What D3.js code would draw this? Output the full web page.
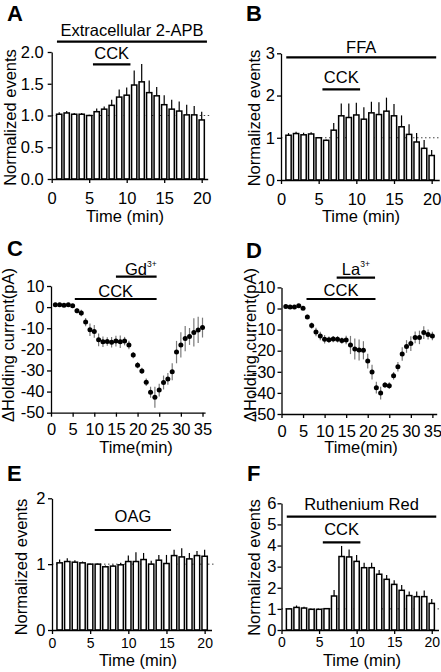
<!DOCTYPE html>
<html><head><meta charset="utf-8">
<script src="https://cdn.jsdelivr.net/npm/d3@7"></script>
<style>
body{margin:0;background:#fff;}
svg{display:block;font-family:"Liberation Sans",Arial,Helvetica,sans-serif;}
</style></head><body>
<svg id="fig" width="441" height="672"></svg>
<script>
// ---------- data ----------
const minutes20 = [1,2,3,4,5,6,7,8,9,10,11,12,13,14,15,16,17,18,19,20];
const minutes35 = [1,2,3,4,5,6,7,8,9,10,11,12,13,14,15,16,17,18,19,20,21,22,23,24,25,26,27,28,29,30,31,32,33,34,35];
const xTicks20 = [0,5,10,15,20];
const xTicks35 = [0,5,10,15,20,25,30,35];

const aMean = [1.02,1.04,1.02,1.02,1.00,1.06,1.10,1.16,1.29,1.32,1.48,1.53,1.36,1.31,1.17,1.10,1.07,1.01,1.01,0.93];
const aErr  = [0.03,0.03,0.02,0.02,0.01,0.05,0.04,0.09,0.12,0.12,0.23,0.28,0.19,0.14,0.15,0.15,0.15,0.16,0.14,0.13];
const aTicks = [0,0.5,1,1.5,2];

const bMean = [1.06,1.10,1.07,1.09,1.00,0.94,1.18,1.52,1.48,1.54,1.44,1.59,1.55,1.63,1.52,1.26,1.08,0.90,0.75,0.58];
const bErr  = [0.05,0.04,0.05,0.04,0.01,0.02,0.17,0.29,0.33,0.29,0.28,0.26,0.29,0.32,0.28,0.27,0.24,0.21,0.20,0.13];
const bTicks = [0,1,2,3];

const cMean = [1.1,1.1,0.9,1.1,0.6,-1.7,-2.8,-7.1,-10.7,-11.5,-15.5,-16.4,-16.3,-16.6,-16.1,-16.4,-16.1,-17.9,-22.7,-27.5,-30.2,-35.6,-40.3,-42.7,-39.3,-35.7,-34.0,-30.6,-21.3,-17.9,-14.9,-13.9,-12.0,-10.8,-9.7];
const cErr  = [0.5,0.5,0.5,0.5,0.5,1.2,1.5,2,3,3,3,2.5,2,2.5,2.5,3,2,2,1.5,1.5,1.5,1.8,2.6,5,3,3.3,2.8,4,5.3,6,6,4,6.7,6.2,4.7];

const dMean = [0.9,0.7,0.7,1.3,0.1,-4.0,-8.1,-11.1,-13.0,-14.6,-14.8,-14.5,-14.6,-15.2,-14.9,-17.3,-19.2,-19.7,-19.8,-24.9,-30.1,-37.5,-40.1,-36.2,-36.6,-31.9,-27.6,-21.6,-18.0,-16.6,-13.7,-13.7,-11.4,-12.3,-13.0];
const dErr  = [0.5,0.5,0.5,0.5,0.5,1,1.5,2,2,2,1.5,1.5,1.5,1.5,2,4.3,5,5,4.3,3.5,3.5,2.8,3,1.3,1.6,1.8,2.2,3.2,3,3.5,2.8,3.2,3,2.4,2];
const currentTicks = [-50,-40,-30,-20,-10,0,10];

const eMean = [1.02,1.04,1.03,1.02,1.00,1.00,0.96,0.97,0.99,1.04,1.04,1.07,1.00,1.06,1.01,1.13,1.11,1.08,1.13,1.12];
const eErr  = [0.05,0.05,0.03,0.02,0.01,0.01,0.02,0.02,0.03,0.09,0.14,0.10,0.05,0.08,0.13,0.09,0.13,0.09,0.07,0.10];
const eTicks = [0,1,2];

const fMean = [1.00,1.07,1.04,0.98,0.98,1.01,1.61,3.48,3.46,3.25,2.95,2.95,2.64,2.40,2.16,1.88,1.63,1.58,1.58,1.26];
const fErr  = [0.03,0.09,0.06,0.03,0.02,0.02,0.28,0.50,0.35,0.30,0.24,0.24,0.20,0.20,0.20,0.25,0.19,0.24,0.29,0.21];
const fTicks = [0,1,2,3,4,5,6];

// treatment bars: [label, start min, end min]
const aTreat = [["Extracellular 2-APB",0.7,20.7],["CCK",5.5,10.5]];
const bTreat = [["FFA",0.7,20.6],["CCK",5.5,10.5]];
const cTreat = [["Gd",15.0,24.4],["CCK",5.5,24.4]];
const dTreat = [["La",12.8,21.7],["CCK",5.8,21.8]];
const eTreat = [["OAG",5.6,15.6]];
const fTreat = [["Ruthenium Red",0.7,20.6],["CCK",5.5,10.5]];

// ---------- drawing ----------
const svg = d3.select("#fig");
const FS = 16.5;

function axes(g, x, y, cfg) {
  const xa = g.append("g").attr("transform", `translate(0,${cfg.yRange[0]})`)
    .call(d3.axisBottom(x).tickValues(cfg.xTicks).tickSize(4).tickSizeOuter(0)
      .tickPadding(cfg.xPad).tickFormat(d => String(d)));
  const ya = g.append("g").attr("transform", `translate(${cfg.xRange[0]},0)`)
    .call(d3.axisLeft(y).tickValues(cfg.yTicks).tickSize(4).tickSizeOuter(0)
      .tickPadding(cfg.yPad).tickFormat(cfg.yFmt || (d => String(d))));
  xa.attr("font-size", cfg.xTickSize || FS).attr("font-family", null);
  ya.attr("font-size", FS).attr("font-family", null);
  [xa, ya].forEach(a => {
    a.selectAll("path,line").attr("stroke", "#000").attr("stroke-width", 1.3);
    a.selectAll("text").attr("fill", "#000");
  });
}

function labels(g, cfg) {
  g.append("text").attr("x", cfg.letter[0]).attr("y", cfg.letter[1])
    .attr("font-size", 22).attr("font-weight", "bold").text(cfg.name);
  g.append("text").attr("transform", `translate(${cfg.ylab[0]},${cfg.ylab[1]}) rotate(-90)`)
    .attr("text-anchor", "middle").attr("font-size", FS).text(cfg.ylabText);
  g.append("text").attr("x", cfg.xlab[0]).attr("y", cfg.xlab[1])
    .attr("text-anchor", "middle").attr("font-size", cfg.xlabSize || FS).text(cfg.xlabText);
}

function treatments(g, x, cfg) {
  cfg.treat.forEach((t, i) => {
    const pos = cfg.treatPos[i]; // [lineY, textY, dx]
    const x1 = x(t[1]), x2 = x(t[2]);
    g.append("line").attr("x1", x1).attr("x2", x2).attr("y1", pos[0]).attr("y2", pos[0])
      .attr("stroke", "#000").attr("stroke-width", 2.2);
    const tx = g.append("text").attr("x", (x1 + x2) / 2 + (pos[2] || 0)).attr("y", pos[1])
      .attr("text-anchor", "middle").attr("font-size", FS).text(t[0]);
    if (t[0] === "Gd" || t[0] === "La") {
      tx.append("tspan").attr("font-size", 8.5).attr("dy", -8).text("3+");
    }
  });
}

function barPanel(cfg) {
  const g = svg.append("g");
  const x = d3.scaleLinear().domain([0, cfg.xMax]).range(cfg.xRange);
  const y = d3.scaleLinear().domain([cfg.yTicks[0], cfg.yTicks[cfg.yTicks.length - 1]])
    .range(cfg.yRange);
  const step = x(1) - x(0);
  const bw = step * 0.7;
  // reference line at 1
  g.append("line").attr("x1", cfg.xRange[0]).attr("x2", cfg.xRange[1] + 4)
    .attr("y1", y(1)).attr("y2", y(1))
    .attr("stroke", "#444").attr("stroke-width", 1).attr("stroke-dasharray", "1.5,2.5");
  const data = cfg.t.map((t, i) => ({t, m: cfg.mean[i], e: cfg.err[i]}));
  g.selectAll("line.err").data(data).join("line").attr("class", "err")
    .attr("x1", d => x(d.t)).attr("x2", d => x(d.t))
    .attr("y1", d => y(d.m)).attr("y2", d => y(d.m + d.e))
    .attr("stroke", "#000").attr("stroke-width", 1.2);
  g.selectAll("rect.bar").data(data).join("rect").attr("class", "bar")
    .attr("x", d => x(d.t) - bw / 2).attr("width", bw)
    .attr("y", d => y(d.m)).attr("height", d => y(0) - y(d.m))
    .attr("fill", "#fff").attr("stroke", "#000").attr("stroke-width", 1.5);
  axes(g, x, y, cfg);
  treatments(g, x, cfg);
  labels(g, cfg);
}

function dotPanel(cfg) {
  const g = svg.append("g");
  const x = d3.scaleLinear().domain([0, cfg.xMax]).range(cfg.xRange);
  const y = d3.scaleLinear().domain([-50, 10]).range(cfg.yRange);
  const data = cfg.t.map((t, i) => ({t, m: cfg.mean[i], e: cfg.err[i]}));
  g.selectAll("line.err").data(data).join("line").attr("class", "err")
    .attr("x1", d => x(d.t)).attr("x2", d => x(d.t))
    .attr("y1", d => y(d.m - d.e)).attr("y2", d => y(d.m + d.e))
    .attr("stroke", "#7a7a7a").attr("stroke-width", 1.2);
  g.selectAll("circle").data(data).join("circle")
    .attr("cx", d => x(d.t)).attr("cy", d => y(d.m)).attr("r", 2.5).attr("fill", "#000");
  axes(g, x, y, cfg);
  treatments(g, x, cfg);
  labels(g, cfg);
}

barPanel({name: "A", t: minutes20, mean: aMean, err: aErr, xMax: 20.8, xRange: [51.7, 207.7],
  yTicks: aTicks, yRange: [179, 52], yFmt: d3.format(".1f"), xTicks: xTicks20, xPad: 9, yPad: 4,
  treat: aTreat, treatPos: [[41.7, 35.5], [64.3, 58.5]],
  letter: [7, 20.5], ylab: [16, 117.5], ylabText: "Normalized events", xlab: [125, 222], xlabText: "Time (min)"});

barPanel({name: "B", t: minutes20, mean: bMean, err: bErr, xMax: 21, xRange: [281, 439.2],
  yTicks: bTicks, yRange: [180, 53.3], xTicks: xTicks20, xPad: 9, yPad: 2,
  treat: bTreat, treatPos: [[57.3, 52.5], [89.3, 82.5]],
  letter: [246, 20.5], ylab: [260, 118], ylabText: "Normalized events", xlab: [361, 222], xlabText: "Time (min)"});

dotPanel({name: "C", t: minutes35, mean: cMean, err: cErr, xMax: 35.6, xRange: [51, 205.1],
  yTicks: currentTicks, yRange: [412.7, 286], xTicks: xTicks35, xPad: 7, yPad: 2.5,
  treat: cTreat, treatPos: [[276.7, 274.5, 4.5], [299, 296.5]],
  letter: [7, 256], ylab: [13.5, 345], ylabText: "\u0394Holding current(pA)", xlab: [136, 453], xlabText: "Time(min)"});

dotPanel({name: "D", t: minutes35, mean: dMean, err: dErr, xMax: 36, xRange: [281.5, 436.7],
  yTicks: currentTicks, yRange: [414, 287.4], xTicks: xTicks35, xPad: 7, yPad: 2,
  treat: dTreat, treatPos: [[277.7, 274.5, 0], [299, 295.5]],
  letter: [246, 258], ylab: [256, 345], ylabText: "\u0394Holding current(pA)", xlab: [361, 453], xlabText: "Time(min)"});

barPanel({name: "E", t: minutes20, mean: eMean, err: eErr, xMax: 20.9, xRange: [52, 211.5],
  yTicks: eTicks, yRange: [630, 498.3], xTicks: xTicks20, xPad: 4, xTickSize: 14, yPad: 2.5,
  treat: eTreat, treatPos: [[530, 521.5]],
  letter: [7, 481], ylab: [27, 567], ylabText: "Normalized events", xlab: [138, 666], xlabSize: 16.5, xlabText: "Time (min)"});

barPanel({name: "F", t: minutes20, mean: fMean, err: fErr, xMax: 20.9, xRange: [281.5, 438.5],
  yTicks: fTicks, yRange: [630, 503.3], xTicks: xTicks20, xPad: 3, xTickSize: 14, yPad: 1,
  treat: fTreat, treatPos: [[516.7, 509.5], [542.3, 535]],
  letter: [247, 481], ylab: [260, 567.5], ylabText: "Normalized events", xlab: [362, 665.5], xlabText: "Time (min)"});
</script>
</body></html>
